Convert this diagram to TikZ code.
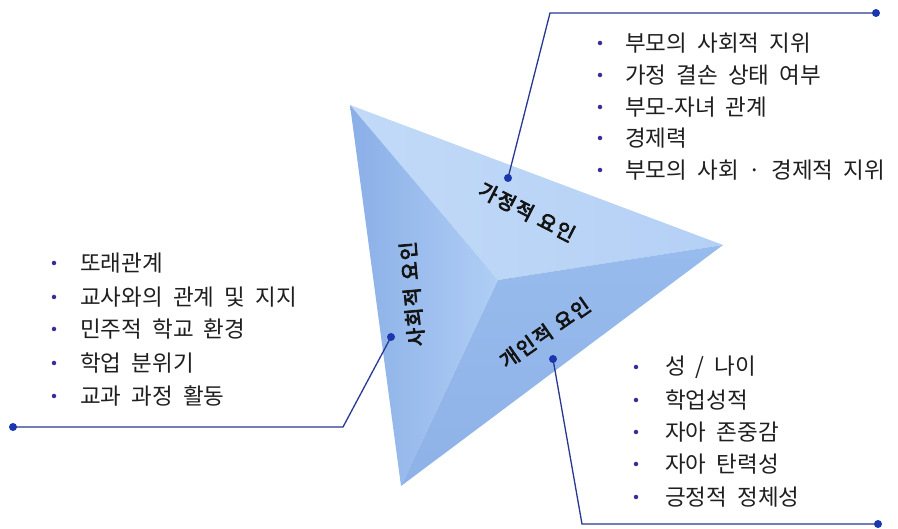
\documentclass[tikz,border=0pt]{standalone}
\usepackage{fontspec}
\newfontfamily\krlist[WordSpace=2]{Noto Sans CJK KR}
\newfontfamily\krlabel[FakeBold=4,LetterSpace=9,WordSpace=1.2]{Noto Sans CJK KR}
\definecolor{topface}{RGB}{194,218,248}
\definecolor{topfaceb}{RGB}{180,208,245}
\definecolor{leftfacea}{RGB}{138,175,231}
\definecolor{leftfaceb}{RGB}{176,206,245}
\definecolor{rightface}{RGB}{152,187,237}
\definecolor{rightfaceb}{RGB}{142,178,231}
\definecolor{linecol}{RGB}{40,56,145}
\definecolor{dotcol}{RGB}{25,55,180}
\definecolor{bulcol}{RGB}{55,45,150}
\begin{document}
\begin{tikzpicture}[x=1pt,y=-1pt,
  conn/.style={draw=linecol,line width=1.3pt},
  enddot/.style={circle,fill=dotcol,inner sep=0pt,minimum size=8pt},
  bul/.style={circle,fill=bulcol,inner sep=0pt,minimum size=4.5pt},
  item/.style={anchor=west,inner sep=0pt,font=\krlist\fontsize{22.5}{24}\selectfont,text=black!88},
  lab/.style={inner sep=0pt,font=\krlabel\fontsize{20}{22}\selectfont,text=black!92}]
\useasboundingbox (0,0) rectangle (898,529);
\fill[white] (0,0) rectangle (898,529);
% pyramid
\coordinate (TL) at (350,105);
\coordinate (R) at (723,245);
\coordinate (B) at (401,486);
\coordinate (C) at (498,280);
\shade[left color=topface,right color=topfaceb] (TL)--(R)--(C)--cycle;
\shade[left color=leftfacea,right color=leftfaceb] (TL)--(C)--(B)--cycle;
\shade[top color=rightface,bottom color=rightfaceb] (C)--(R)--(B)--cycle;
% labels
\node[lab,rotate=-27] (lfam) at (527,212) {가정적 요인};
\node[lab,rotate=95] (lsoc) at (412,294) {사회적 요인};
\node[lab,rotate=35] (lind) at (545,333) {개인적 요인};
% connectors
\node[enddot] (d1) at (508,178) {};
\coordinate (k1) at (550,13);
\node[enddot] (e1) at (876,13) {};
\draw[conn] (d1.center) -- (k1) -- (e1.center);
\node[enddot] (d2) at (391,337) {};
\coordinate (k2) at (343,427);
\node[enddot] (e2) at (13,427) {};
\draw[conn] (d2.center) -- (k2) -- (e2.center);
\node[enddot] (d3) at (553,359) {};
\coordinate (k3) at (582,524);
\node[enddot] (e3) at (878,524) {};
\draw[conn] (d3.center) -- (k3) -- (e3.center);
% top list
\node[bul] (b11) at (600,43) {};  \node[item] (t11) at (625,43) {부모의 사회적 지위};
\node[bul] (b12) at (600,75) {};  \node[item] (t12) at (625,75) {가정 결손 상태 여부};
\node[bul] (b13) at (600,107) {}; \node[item] (t13) at (625,107) {부모-자녀 관계};
\node[bul] (b14) at (600,138) {}; \node[item] (t14) at (625,138) {경제력};
\node[bul] (b15) at (600,170) {}; \node[item] (t15) at (625,170) {부모의 사회 · 경제적 지위};
% left list
\node[bul] (b21) at (54,263) {};  \node[item] (t21) at (80,263) {또래관계};
\node[bul] (b22) at (54,297) {};  \node[item] (t22) at (80,297) {교사와의 관계 및 지지};
\node[bul] (b23) at (54,329) {};  \node[item] (t23) at (80,329) {민주적 학교 환경};
\node[bul] (b24) at (54,363) {};  \node[item] (t24) at (80,363) {학업 분위기};
\node[bul] (b25) at (54,396) {};  \node[item] (t25) at (80,396) {교과 과정 활동};
% bottom list
\node[bul] (b31) at (636,367) {}; \node[item] (t31) at (665,367) {성 / 나이};
\node[bul] (b32) at (636,400) {}; \node[item] (t32) at (665,400) {학업성적};
\node[bul] (b33) at (636,432) {}; \node[item] (t33) at (665,432) {자아 존중감};
\node[bul] (b34) at (636,464) {}; \node[item] (t34) at (665,464) {자아 탄력성};
\node[bul] (b35) at (636,497) {}; \node[item] (t35) at (665,497) {긍정적 정체성};
\end{tikzpicture}
\end{document}
